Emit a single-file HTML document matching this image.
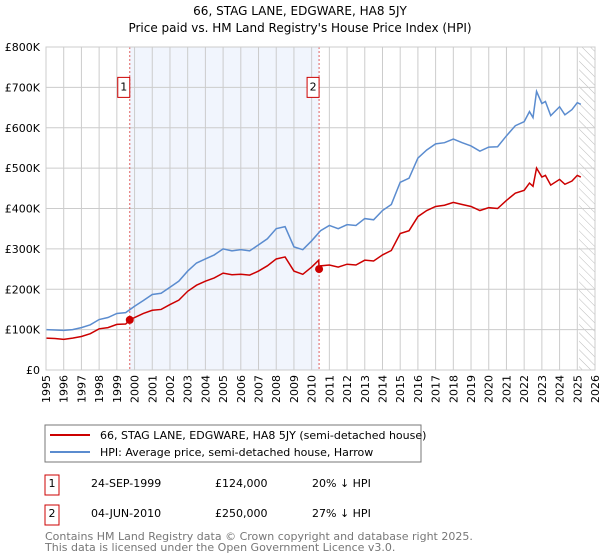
<!DOCTYPE html>
<html><head><meta charset="utf-8"><style>
body{margin:0;background:#fff;font-family:"DejaVu Sans","Liberation Sans",sans-serif}
svg{display:block}
</style></head><body>
<svg id="c" width="600" height="560" xmlns="http://www.w3.org/2000/svg" font-family="DejaVu Sans, Liberation Sans, sans-serif">
<defs><pattern id="hatch" width="6" height="6" patternUnits="userSpaceOnUse" patternTransform="rotate(-45)"><line x1="0" y1="0" x2="0" y2="6" stroke="#bbb" stroke-width="1"/></pattern></defs>
<text x="300" y="15" text-anchor="middle" font-size="12">66, STAG LANE, EDGWARE, HA8 5JY</text>
<text x="300" y="32" text-anchor="middle" font-size="12">Price paid vs. HM Land Registry's House Price Index (HPI)</text>
<g id="plot"></g>
<rect x="45" y="425" width="376" height="37" fill="#fff" stroke="#777"/>
<line x1="50" y1="435" x2="90" y2="435" stroke="#cc0000" stroke-width="2"/>
<text x="100" y="439" font-size="11">66, STAG LANE, EDGWARE, HA8 5JY (semi-detached house)</text>
<line x1="50" y1="452" x2="90" y2="452" stroke="#5b8ccf" stroke-width="2"/>
<text x="100" y="456" font-size="11">HPI: Average price, semi-detached house, Harrow</text>
<g font-size="11">
<rect x="45" y="475" width="14" height="20" fill="#fff" stroke="#cc0000"/>
<text x="52" y="487" text-anchor="middle">1</text>
<text x="91" y="487">24-SEP-1999</text>
<text x="215" y="487">£124,000</text>
<text x="312" y="487">20% ↓ HPI</text>
<rect x="45" y="505" width="14" height="20" fill="#fff" stroke="#cc0000"/>
<text x="52" y="517" text-anchor="middle">2</text>
<text x="91" y="517">04-JUN-2010</text>
<text x="215" y="517">£250,000</text>
<text x="312" y="517">27% ↓ HPI</text>
</g>
<text x="45" y="540" font-size="11" fill="#777">Contains HM Land Registry data © Crown copyright and database right 2025.</text>
<text x="45" y="551" font-size="11" fill="#777">This data is licensed under the Open Government Licence v3.0.</text>
</svg>
<script>
const hpiYears=[1995,1995.5,1996,1996.5,1997,1997.5,1998,1998.5,1999,1999.5,2000,2000.5,2001,2001.5,2002,2002.5,2003,2003.5,2004,2004.5,2005,2005.5,2006,2006.5,2007,2007.5,2008,2008.5,2009,2009.5,2010,2010.5,2011,2011.5,2012,2012.5,2013,2013.5,2014,2014.5,2015,2015.5,2016,2016.5,2017,2017.5,2018,2018.5,2019,2019.5,2020,2020.5,2021,2021.5,2022,2022.3,2022.5,2022.7,2023,2023.2,2023.5,2024,2024.3,2024.7,2025,2025.2];
const hpiValues=[100,99,98,100,105,112,125,130,140,142,158,172,187,190,205,220,245,265,275,285,300,295,298,295,310,325,350,355,305,298,320,345,358,350,360,358,375,372,395,410,465,475,525,545,560,563,572,563,555,542,552,553,580,605,615,640,625,690,660,665,630,652,632,645,662,658];
const propYears=[1995,1995.5,1996,1996.5,1997,1997.5,1998,1998.5,1999,1999.5,1999.73,2000,2000.5,2001,2001.5,2002,2002.5,2003,2003.5,2004,2004.5,2005,2005.5,2006,2006.5,2007,2007.5,2008,2008.5,2009,2009.5,2010,2010.4,2010.42,2010.5,2011,2011.5,2012,2012.5,2013,2013.5,2014,2014.5,2015,2015.5,2016,2016.5,2017,2017.5,2018,2018.5,2019,2019.5,2020,2020.5,2021,2021.5,2022,2022.3,2022.5,2022.7,2023,2023.2,2023.5,2024,2024.3,2024.7,2025,2025.2];
const propValues=[79,78,76,79,83,90,102,105,113,114,124,130,140,148,150,162,173,195,210,220,228,240,236,237,235,245,258,275,280,245,237,255,272,250,258,260,255,262,260,272,270,285,296,338,345,380,395,405,408,415,410,405,395,402,400,420,438,445,463,455,500,478,482,458,472,460,468,482,478];
const saleYears=[1999.73,2010.42];
const saleValues=[124,250];
const saleLabels=["1","2"];
const yTicks=[0,100,200,300,400,500,600,700,800];
const yTickLabels=["£0","£100K","£200K","£300K","£400K","£500K","£600K","£700K","£800K"];
const xTicks=[1995,1996,1997,1998,1999,2000,2001,2002,2003,2004,2005,2006,2007,2008,2009,2010,2011,2012,2013,2014,2015,2016,2017,2018,2019,2020,2021,2022,2023,2024,2025,2026];

const X0=46,X1=595,Y0=370,Y1=47;
const x=v=>X0+(v-1995)/(2026-1995)*(X1-X0);
const y=v=>Y0-v/800*(Y0-Y1);
const NS="http://www.w3.org/2000/svg";
const g=document.getElementById('plot');
function mk(t,a){const e=document.createElementNS(NS,t);for(const k in a)e.setAttribute(k,a[k]);g.appendChild(e);return e;}
let e;
e=mk('rect',{x:x(saleYears[0]),y:Y1,width:x(saleYears[1])-x(saleYears[0]),height:Y0-Y1,fill:'#eef3fc',opacity:'0.8'});


e=mk('rect',{x:x(2025.1),y:Y1,width:X1-x(2025.1),height:Y0-Y1,fill:'url(#hatch)'});


xTicks.forEach(t=>{
 e=mk('line',{x1:x(t),x2:x(t),y1:Y1,y2:Y0,stroke:'#ccc','stroke-width':1});
 
 
 e=mk('text',{transform:`translate(${x(t)+4},${Y0+5}) rotate(-90)`,'text-anchor':'end','font-size':11});
 e.textContent=t;
 
 
});
yTicks.forEach((t,i)=>{
 e=mk('line',{x1:X0,x2:X1,y1:y(t),y2:y(t),stroke:'#ccc','stroke-width':1});
 
 
 e=mk('text',{x:X0-6,y:y(t)+4,'text-anchor':'end','font-size':11});
 e.textContent=yTickLabels[i];
 
 
});
saleYears.forEach((s,i)=>{
 e=mk('line',{x1:x(s),x2:x(s),y1:Y1,y2:Y0,stroke:'#e06060','stroke-dasharray':'2,2','stroke-width':1});
 
 
});
e=mk('polyline',{points:hpiYears.map((t,i)=>x(t)+','+y(hpiValues[i])).join(' '),fill:'none',stroke:'#5b8ccf','stroke-width':1.5});


e=mk('polyline',{points:propYears.map((t,i)=>x(t)+','+y(propValues[i])).join(' '),fill:'none',stroke:'#cc0000','stroke-width':1.5});


saleYears.forEach((s,i)=>{
 e=mk('circle',{cx:x(s),cy:y(saleValues[i]),r:4,fill:'#cc0000'});
 
 
 e=mk('rect',{x:x(s)-12,y:y(700)-10,width:12,height:20,fill:'#fff',stroke:'#cc0000'});
 
 
 e=mk('text',{x:x(s)-6,y:y(700)+3,'text-anchor':'middle','font-size':11});
 e.textContent=saleLabels[i];
 
 
});
e=mk('rect',{x:X0,y:Y1,width:X1-X0,height:Y0-Y1,fill:'none',stroke:'#ccc'});


</script>
</body></html>
